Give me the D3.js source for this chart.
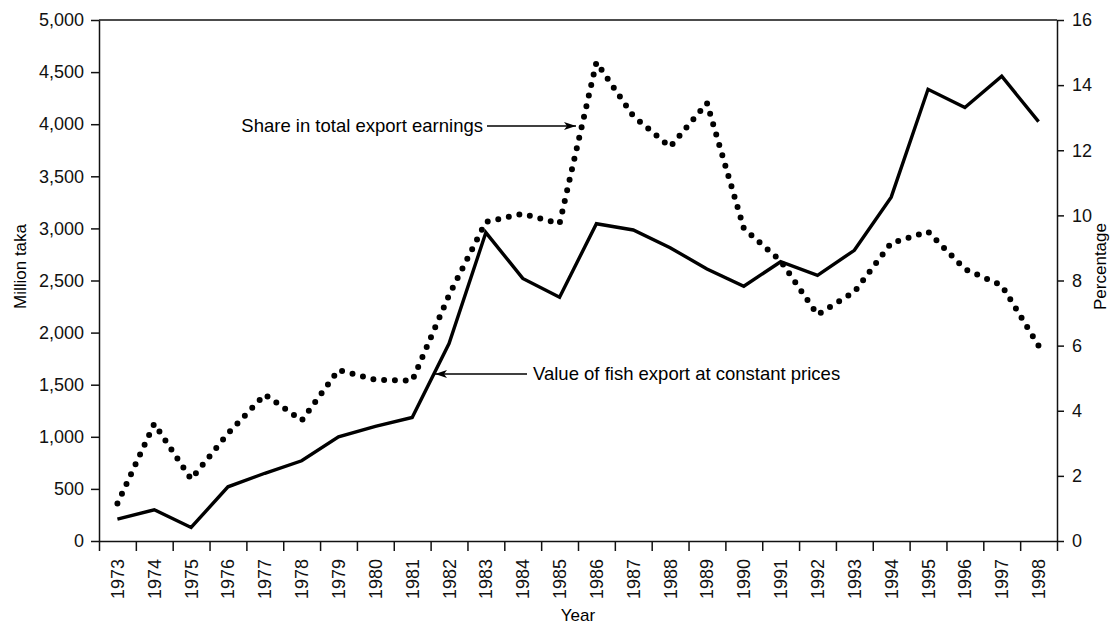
<!DOCTYPE html>
<html lang="en">
	<head>
		<meta charset="utf-8">
		<title>Fish export, Bangladesh</title>
		<script type="text/javascript" src="https://cdnjs.cloudflare.com/ajax/libs/d3/7.8.5/d3.min.js"></script>
		<style type="text/css">
			body { margin: 0; background: #fff; }
			svg { font-family: "Liberation Sans", Arial, sans-serif; }
		</style>
	</head>
	<body>
		<script type="text/javascript">

			var w = 1120;
			var h = 627;
			var margin = {top: 20, right: 63, bottom: 86, left: 99};

			var years = d3.range(1973, 1999);
			// million taka, constant prices
			var exportValue = [210, 300, 130, 520, 650, 770, 1000, 1100, 1185, 1895, 2960, 2520, 2340, 3045, 2985, 2815, 2610, 2445, 2680, 2550, 2790, 3300, 4335, 4160, 4460, 4025];
			// share in total export earnings, %
			var exportShare = [1.15, 3.6, 1.9, 3.3, 4.5, 3.7, 5.25, 4.95, 4.92, 7.55, 9.8, 10.05, 9.75, 14.7, 13.05, 12.1, 13.45, 9.6, 8.6, 6.95, 7.65, 9.15, 9.5, 8.35, 7.85, 6.0];

			var leftTicks = d3.range(0, 5001, 500);
			var rightTicks = d3.range(0, 17, 2);

			var x0 = margin.left, x1 = w - margin.right;
			var y0 = h - margin.bottom, y1 = margin.top;

			var xScale = d3.scaleBand()
							.domain(years)
							.range([x0, x1])

			var xEdge = d3.scaleLinear()
							.domain([0, years.length])
							.range([x0, x1])

			var yLeft = d3.scaleLinear()
							.domain([0, 5000])
							.range([y0, y1])

			var yRight = d3.scaleLinear()
							.domain([0, 16])
							.range([y0, y1])

			var cx = d => xScale(d) + xScale.bandwidth() / 2

			var svg = d3.select('body')
							.append('svg')
							.attr('width', w)
							.attr('height', h)

			// frame top line
			svg.append('line')
				.attr('x1', x0).attr('x2', x1)
				.attr('y1', y1).attr('y2', y1)
				.attr('stroke', '#111')
				.attr('stroke-width', 1.5)

			var styleAxis = g => g
				.call(g => g.selectAll('path,line').attr('stroke', '#111').attr('stroke-width', 1.5))
				.call(g => g.selectAll('text').attr('fill', '#111').attr('font-size', 18).attr('font-family', null))

			svg.append('g')
				.attr('transform', `translate(${x0},0)`)
				.call(d3.axisLeft(yLeft).tickValues(leftTicks).tickSize(8).tickPadding(7).tickSizeOuter(0).tickFormat(d3.format(',')))
				.call(styleAxis)

			svg.append('g')
				.attr('transform', `translate(${x1},0)`)
				.call(d3.axisRight(yRight).tickValues(rightTicks).tickSize(7).tickPadding(8).tickSizeOuter(0))
				.call(styleAxis)

			svg.append('g')
				.attr('transform', `translate(0,${y0})`)
				.call(d3.axisBottom(xEdge).tickValues(d3.range(years.length + 1)).tickSize(10).tickSizeOuter(0).tickFormat(''))
				.call(styleAxis)

			svg.append('g')
				.attr('transform', `translate(0,${y0})`)
				.call(d3.axisBottom(xScale).tickSize(0).tickSizeOuter(0))
				.call(g => g.select('.domain').remove())
				.call(styleAxis)
				.call(g => g.selectAll('text')
					.attr('transform', 'rotate(-90)')
					.attr('text-anchor', 'end')
					.attr('x', -18)
					.attr('y', 0)
					.attr('dy', '0.36em'))

			var lineValue = d3.line()
							.x((d, i) => cx(years[i]))
							.y(d => yLeft(d))

			var lineShare = d3.line()
							.x((d, i) => cx(years[i]))
							.y(d => yRight(d))

			svg.append('path')
				.datum(exportValue)
				.attr('d', lineValue)
				.attr('fill', 'none')
				.attr('stroke', '#000')
				.attr('stroke-width', 3.4)
				.attr('stroke-linejoin', 'miter')

			svg.append('path')
				.datum(exportShare)
				.attr('d', lineShare)
				.attr('fill', 'none')
				.attr('stroke', '#000')
				.attr('stroke-width', 6)
				.attr('stroke-linecap', 'round')
				.attr('stroke-dasharray', '0,10.8')

			// annotations
			var defs = svg.append('defs')
			defs.append('marker')
				.attr('id', 'arrow')
				.attr('viewBox', '0 0 12 8')
				.attr('refX', 12).attr('refY', 4)
				.attr('markerWidth', 12).attr('markerHeight', 8)
				.attr('markerUnits', 'userSpaceOnUse')
				.attr('orient', 'auto')
				.append('path')
				.attr('d', 'M0,0L12,4L0,8L3,4Z')
				.attr('fill', '#000')

			svg.append('text')
				.attr('x', 483).attr('y', 132)
				.attr('text-anchor', 'end')
				.attr('font-size', 18.5)
				.text('Share in total export earnings')

			svg.append('line')
				.attr('x1', 487).attr('x2', 576)
				.attr('y1', 126).attr('y2', 126)
				.attr('stroke', '#000').attr('stroke-width', 1.3)
				.attr('marker-end', 'url(#arrow)')

			svg.append('text')
				.attr('x', 533).attr('y', 380)
				.attr('font-size', 18.5)
				.text('Value of fish export at constant prices')

			svg.append('line')
				.attr('x1', 527).attr('x2', 435)
				.attr('y1', 374).attr('y2', 374)
				.attr('stroke', '#000').attr('stroke-width', 1.3)
				.attr('marker-end', 'url(#arrow)')

			// axis titles
			svg.append('text')
				.attr('transform', `translate(26,${(y0 + y1) / 2 - 14}) rotate(-90)`)
				.attr('text-anchor', 'middle')
				.attr('font-size', 17)
				.text('Million taka')

			svg.append('text')
				.attr('transform', `translate(1106,${(y0 + y1) / 2 - 14}) rotate(-90)`)
				.attr('text-anchor', 'middle')
				.attr('font-size', 17)
				.text('Percentage')

			svg.append('text')
				.attr('x', (x0 + x1) / 2).attr('y', 621)
				.attr('text-anchor', 'middle')
				.attr('font-size', 17)
				.text('Year')
		</script>
	</body>
</html>
